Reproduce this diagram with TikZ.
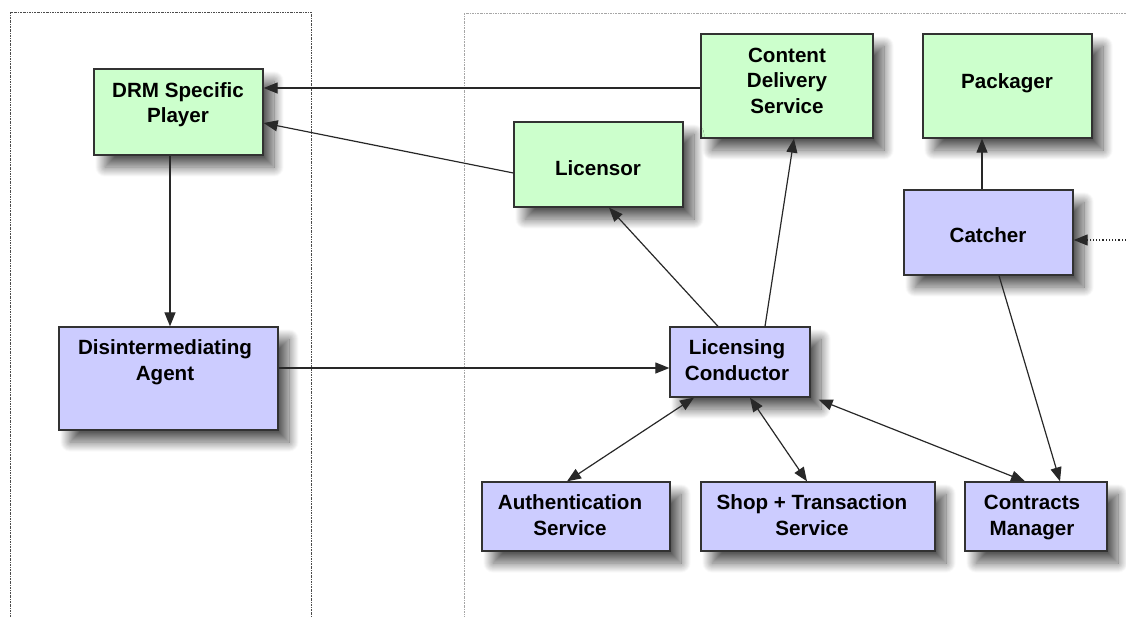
\documentclass[tikz,border=0pt]{standalone}
\usepackage{fontspec}
\setmainfont{Liberation Sans}
\usetikzlibrary{arrows.meta,shadows.blur,calc}

\definecolor{greenbox}{RGB}{204,255,204}
\definecolor{bluebox}{RGB}{204,204,255}
\definecolor{edge}{RGB}{50,50,50}
\definecolor{wire}{RGB}{40,40,40}

% strut giving every text line the same height/depth, so a label's centre sits on its cap middle
\newcommand\lnst{\rule[-5.4pt]{0pt}{25.5pt}}

\tikzset{
  boxbase/.style={draw=edge, line width=1.3pt, inner sep=0pt,
    blur shadow={shadow xshift=11pt, shadow yshift=-12pt, shadow blur radius=10pt,
                 shadow blur steps=20, shadow opacity=65}},
  gbox/.style={boxbase, fill=greenbox},
  bbox/.style={boxbase, fill=bluebox},
  lbl/.style={inner sep=0pt, align=center, text=black,
    font=\fontsize{20.6}{25.5}\selectfont\bfseries},
  conn/.style={draw=wire, line width=1.2pt, -{Triangle[length=14pt,width=11pt]}},
  biconn/.style={draw=wire, line width=1.2pt, {Triangle[length=14pt,width=11pt]}-{Triangle[length=14pt,width=11pt]}},
  region/.style={line width=0.8pt, dash pattern=on 2pt off 1pt on 0.6pt off 1pt},
}

\begin{document}
\begin{tikzpicture}[x=1pt, y=-1pt]
\useasboundingbox (0,0) rectangle (1126,616);

% dotted regions (client side, service side)
\begin{scope}
  \clip (0,0) rectangle (1126,616);
  \draw[region, draw=gray!60!black] (10,12) rectangle (311,630);
  \draw[region, draw=gray!70] (464,13) rectangle (1140,630);
\end{scope}

% boxes
\node[gbox, minimum width=169pt, minimum height=86pt]  (drm)  at (178.5,112)   {};
\node[gbox, minimum width=172pt, minimum height=104pt] (cds)  at (787,86)      {};
\node[gbox, minimum width=169pt, minimum height=104pt] (pkg)  at (1007.5,86)   {};
\node[gbox, minimum width=169pt, minimum height=85pt]  (lic)  at (598.5,164.5) {};
\node[bbox, minimum width=169pt, minimum height=85pt]  (cat)  at (988.5,232.5) {};
\node[bbox, minimum width=219pt, minimum height=103pt] (dia)  at (168.5,378.5) {};
\node[bbox, minimum width=140pt, minimum height=70pt]  (lc)   at (740,362)     {};
\node[bbox, minimum width=188pt, minimum height=69pt]  (auth) at (576,516.5)   {};
\node[bbox, minimum width=234pt, minimum height=69pt]  (shop) at (818,516.5)   {};
\node[bbox, minimum width=142pt, minimum height=69pt]  (cm)   at (1036,516.5)  {};

% box labels
\node[lbl] (drm-t)  at (178,102.5) {\lnst DRM Specific\\\lnst Player};
\node[lbl] (cds-t)  at (787,80.5)  {\lnst Content\\\lnst Delivery\\\lnst Service};
\node[lbl] (pkg-t)  at (1007,81)   {\lnst Packager};
\node[lbl] (lic-t)  at (598,168)   {\lnst Licensor};
\node[lbl] (cat-t)  at (988,235)   {\lnst Catcher};
\node[lbl] (dia-t)  at (165,360)   {\lnst Disintermediating\\\lnst Agent};
\node[lbl] (lc-t)   at (737,360)   {\lnst Licensing\\\lnst Conductor};
\node[lbl] (auth-t) at (570,515)   {\lnst Authentication\\\lnst Service};
\node[lbl] (shop-t) at (812,515)   {\lnst Shop + Transaction\\\lnst Service};
\node[lbl] (cm-t)   at (1032,515)  {\lnst Contracts\\\lnst Manager};

% connectors
\draw[conn] ([yshift=-2pt]cds.west) -- ([yshift=24pt]drm.east);
\draw[conn] ([yshift=-8.5pt]lic.west) -- ([yshift=-11pt]drm.east);
\coordinate (drmout) at ([xshift=-8.5pt]drm.south);
\draw[conn] (drmout) -- (drmout |- dia.north);
\coordinate (diaout) at ([yshift=10.5pt]dia.east);
\draw[conn] (diaout) -- (diaout -| lc.west);
\draw[conn] ([xshift=-22pt]lc.north) -- ([xshift=10.5pt]lic.south);
\draw[conn] ([xshift=25pt]lc.north) -- ([xshift=7pt]cds.south);
\coordinate (catout) at ([xshift=-6.5pt]cat.north);
\draw[conn] (catout) -- (catout |- pkg.south);
\draw[conn] ([xshift=10.5pt]cat.south) -- ([xshift=24pt]cm.north);
\draw[biconn] ([xshift=-46pt]lc.south) -- ([xshift=-9pt]auth.north);
\draw[biconn] ([xshift=10pt]lc.south) -- ([xshift=-11pt]shop.north);
\draw[biconn] ([xshift=8pt,yshift=-2pt]lc.south east) -- ([xshift=-11pt]cm.north);

% incoming feed on the right
\coordinate (feed) at (1126,240);
\draw[draw=wire, line width=1.2pt, dotted, -{Triangle[length=14pt,width=11pt]}]
  (feed) -- (feed -| cat.east);
\end{tikzpicture}
\end{document}
